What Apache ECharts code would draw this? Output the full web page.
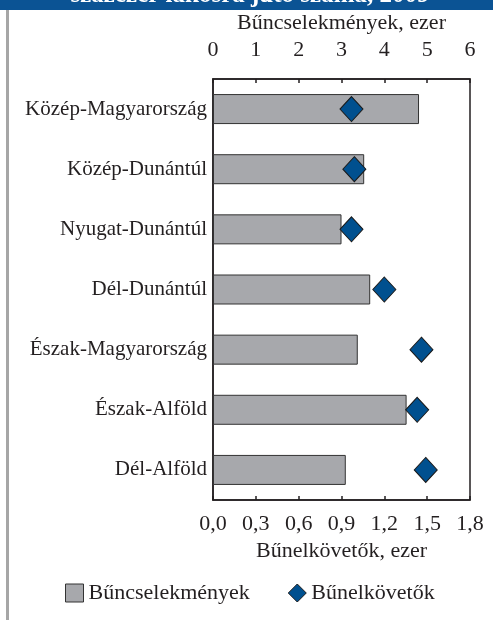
<!DOCTYPE html>
<html><head><meta charset="utf-8">
<script src="https://cdn.jsdelivr.net/npm/echarts@6/dist/echarts.min.js"></script>
<style>html,body{margin:0;padding:0;background:#fff}#c{width:493px;height:620px}</style>
</head><body><div id="c"></div>
<script>
const categories = ['Közép-Magyarország','Közép-Dunántúl','Nyugat-Dunántúl','Dél-Dunántúl','Észak-Magyarország','Észak-Alföld','Dél-Alföld'];
const crimes = [4.81, 3.53, 3.00, 3.67, 3.38, 4.52, 3.10];
const offenders = [0.97, 0.99, 0.97, 1.20, 1.46, 1.43, 1.49];
const topTicks = [0, 6, 1];
const bottomTicks = [0, 1.8, 0.3];
const titleText = 'százezer lakosra jutó száma, 2009';

const F = 'Liberation Serif';
const TC = '#231f20';
const chart = echarts.init(document.getElementById('c'), null, {renderer:'canvas'});
chart.setOption({
  animation:false,
  textStyle:{fontFamily:F},
  graphic:[
    {type:'rect', shape:{x:0,y:0,width:493,height:10}, style:{fill:'#0b5394'}},
    {type:'text', x:250, y:-4, style:{text:titleText, fill:'#fff', font:'bold 25px "Liberation Serif"', align:'center', verticalAlign:'middle'}},
    {type:'rect', shape:{x:6,y:10,width:3,height:610}, style:{fill:'#a6a6a6'}}
  ],
  grid:{left:213, right:23, top:79, bottom:120, containLabel:false, show:true, borderColor:'#231f20', borderWidth:1.5, backgroundColor:'transparent'},
  legend:{
    bottom:11, left:60, itemWidth:18, itemHeight:18, itemGap:38,
    textStyle:{fontFamily:F, fontSize:22, color:TC},
    data:[
      {name:'Bűncselekmények', icon:'rect', itemStyle:{color:'#a7a8ac', borderColor:'#333', borderWidth:1}},
      {name:'Bűnelkövetők', icon:'diamond', itemStyle:{color:'#00508f', borderColor:'#1a1a1a', borderWidth:1}}
    ]
  },
  yAxis:{
    type:'category', data:categories, inverse:true,
    axisLine:{show:true, lineStyle:{color:'#231f20', width:1.5}},
    axisTick:{show:false},
    axisLabel:{fontFamily:F, fontSize:21, color:TC, margin:6}
  },
  xAxis:[
    {type:'value', position:'top', min:topTicks[0], max:topTicks[1], interval:topTicks[2],
     name:'Bűncselekmények, ezer', nameLocation:'middle', nameGap:40,
     nameTextStyle:{fontFamily:F, fontSize:22, color:TC},
     axisLine:{show:true, lineStyle:{color:'#231f20', width:1.5}},
     axisTick:{show:true, inside:true, length:4, lineStyle:{color:'#231f20', width:1.5}},
     axisLabel:{fontFamily:F, fontSize:22, color:TC, margin:18},
     splitLine:{show:false}},
    {type:'value', position:'bottom', min:bottomTicks[0], max:bottomTicks[1], interval:bottomTicks[2],
     name:'Bűnelkövetők, ezer', nameLocation:'middle', nameGap:39,
     nameTextStyle:{fontFamily:F, fontSize:22, color:TC},
     axisLine:{show:true, lineStyle:{color:'#231f20', width:1.5}},
     axisTick:{show:true, inside:true, length:4, lineStyle:{color:'#231f20', width:1.5}},
     axisLabel:{fontFamily:F, fontSize:22, color:TC, margin:13, formatter:v=>v.toFixed(1).replace('.',',')},
     splitLine:{show:false}}
  ],
  series:[
    {name:'Bűncselekmények', type:'bar', xAxisIndex:0, data:crimes, barWidth:30,
     itemStyle:{color:'#a7a8ac', borderColor:'#333', borderWidth:1}},
    {name:'Bűnelkövetők', type:'scatter', xAxisIndex:1, data:offenders, symbol:'diamond', symbolSize:[23,25],
     itemStyle:{color:'#00508f', borderColor:'#1a1a1a', borderWidth:1, opacity:1}, z:5}
  ]
});
</script></body></html>
